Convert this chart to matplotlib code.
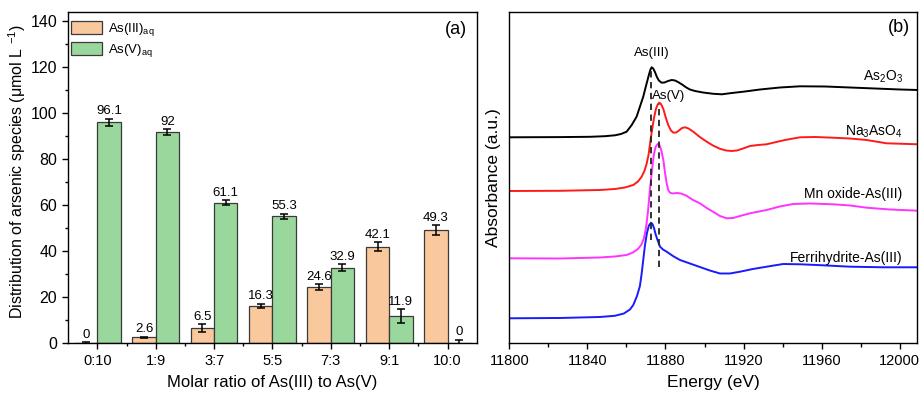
import matplotlib
matplotlib.use("Agg")
import matplotlib.pyplot as plt
import numpy as np
from matplotlib.ticker import MultipleLocator, FixedLocator
from matplotlib.patches import Patch

plt.rcParams['font.family'] = ['Liberation Sans', 'DejaVu Sans']
plt.rcParams['mathtext.fontset'] = 'custom'
plt.rcParams['mathtext.rm'] = 'Liberation Sans'
plt.rcParams['mathtext.it'] = 'Liberation Sans:italic'
plt.rcParams['mathtext.default'] = 'rm'

# ---------------- Panel (a) data ----------------
ratios = ["0:10", "1:9", "3:7", "5:5", "7:3", "9:1", "10:0"]
as3_vals = [0, 2.6, 6.5, 16.3, 24.6, 42.1, 49.3]
as3_err = [0.5, 0.3, 1.8, 1.0, 1.2, 1.9, 2.0]
as5_vals = [96.1, 92, 61.1, 55.3, 32.9, 11.9, 0]
as5_err = [1.6, 1.2, 1.1, 1.1, 1.5, 2.9, 1.6]
as3_lbls = ["0", "2.6", "6.5", "16.3", "24.6", "42.1", "49.3"]
as5_lbls = ["96.1", "92", "61.1", "55.3", "32.9", "11.9", "0"]

# ---------------- Panel (b) data ----------------
e_as2o3 = [11800, 11826.0, 11841.3, 11849.0, 11854.1, 11857.2, 11860.1, 11862.7, 11865.2, 11866.9,
           11868.6, 11870.0, 11871.2, 11872.2, 11872.9, 11873.7, 11874.6, 11875.6, 11876.6, 11878.0,
           11879.5, 11881.3, 11883.2, 11884.9, 11886.4, 11888.5, 11890.5, 11892.5, 11895.1, 11899.2,
           11904.5, 11908.9, 11914.0, 11920.7, 11928.4, 11938.6, 11948.9, 11961.7, 11974.5, 11987.3,
           12000.1, 12009.3]
a_as2o3 = [2.060, 2.062, 2.065, 2.071, 2.080, 2.093, 2.116, 2.183, 2.266, 2.366,
           2.466, 2.573, 2.663, 2.733, 2.760, 2.748, 2.713, 2.663, 2.628, 2.606,
           2.608, 2.623, 2.633, 2.628, 2.613, 2.588, 2.560, 2.538, 2.523, 2.508,
           2.495, 2.490, 2.503, 2.518, 2.538, 2.558, 2.570, 2.568, 2.558, 2.548,
           2.538, 2.533]

e_na3aso4 = [11800, 11826.0, 11846.4, 11854.1, 11859.2, 11863.5, 11865.9, 11867.8, 11869.2, 11870.3,
             11871.3, 11872.0, 11873.1, 11874.1, 11875.1, 11876.0, 11876.8, 11877.7, 11878.9, 11880.2,
             11881.4, 11882.8, 11884.0, 11885.4, 11886.9, 11888.5, 11890.0, 11891.8, 11894.2, 11897.6,
             11901.1, 11904.3, 11907.9, 11911.0, 11913.9, 11916.6, 11919.7, 11923.3, 11927.4, 11931.8,
             11936.1, 11941.2, 11948.9, 11956.6, 11965.7, 11974.5, 11983.0, 11993.2, 12009.3]
a_na3aso4 = [1.523, 1.525, 1.533, 1.543, 1.558, 1.583, 1.618, 1.666, 1.723, 1.793,
             1.883, 1.983, 2.133, 2.253, 2.343, 2.388, 2.406, 2.393, 2.343, 2.253,
             2.183, 2.128, 2.106, 2.108, 2.128, 2.153, 2.160, 2.148, 2.116, 2.063,
             2.016, 1.978, 1.945, 1.928, 1.923, 1.928, 1.948, 1.973, 1.983, 1.990,
             2.010, 2.033, 2.060, 2.063, 2.056, 2.048, 2.033, 2.000, 1.990]

e_mn = [11800, 11826.0, 11846.4, 11854.1, 11860.1, 11863.3, 11865.9, 11867.7, 11869.0, 11870.0,
        11871.0, 11872.0, 11873.1, 11874.0, 11874.9, 11876.0, 11876.9, 11877.8, 11878.9, 11879.7,
        11880.6, 11881.4, 11882.3, 11883.8, 11885.9, 11887.9, 11890.5, 11894.1, 11897.6, 11901.1,
        11904.3, 11907.9, 11911.3, 11914.6, 11918.2, 11923.3, 11931.8, 11938.6, 11945.4, 11954.0,
        11965.9, 11974.6, 11983.0, 11995.0, 12009.3]
a_mn = [0.850, 0.848, 0.858, 0.868, 0.883, 0.908, 0.943, 0.988, 1.053, 1.153,
        1.313, 1.533, 1.733, 1.883, 1.963, 1.993, 1.983, 1.933, 1.833, 1.713,
        1.600, 1.533, 1.506, 1.498, 1.503, 1.498, 1.478, 1.433, 1.400, 1.353,
        1.316, 1.273, 1.250, 1.253, 1.273, 1.300, 1.333, 1.368, 1.393, 1.398,
        1.390, 1.378, 1.356, 1.338, 1.326]

e_fh = [11800, 11826.0, 11846.4, 11854.1, 11858.7, 11861.8, 11863.5, 11865.4, 11866.9, 11867.9,
        11868.6, 11869.5, 11870.5, 11871.5, 11872.6, 11873.3, 11874.1, 11874.9, 11875.9, 11877.2,
        11878.7, 11880.6, 11883.8, 11887.4, 11892.5, 11897.6, 11902.7, 11907.9, 11913.0, 11918.2,
        11924.8, 11931.8, 11940.3, 11948.9, 11957.4, 11974.5, 11991.3, 12009.3]
a_fh = [0.250, 0.253, 0.263, 0.275, 0.298, 0.338, 0.383, 0.473, 0.573, 0.713,
        0.833, 0.983, 1.103, 1.178, 1.206, 1.193, 1.153, 1.093, 1.033, 0.966,
        0.938, 0.916, 0.873, 0.833, 0.798, 0.763, 0.728, 0.698, 0.698, 0.716,
        0.743, 0.766, 0.793, 0.790, 0.783, 0.766, 0.760, 0.760]

ref_energies = [11872.6, 11876.7]
ref_top = [2.76, 2.39]
ref_bottom = [1.03, 0.76]

# ---------------- Figure ----------------
fig = plt.figure(figsize=(9.19, 3.93), dpi=100)
ax1 = fig.add_axes([0.0743, 0.1265, 0.4444, 0.8422])
ax2 = fig.add_axes([0.5542, 0.1265, 0.4440, 0.8422])

orange = '#F9C89C'
green = '#9AD79C'
edge = '#3a3a3a'
x = np.arange(len(ratios))
w = 0.4
ax1.bar(x - w/2, as3_vals, w, color=orange, edgecolor=edge, linewidth=0.9, zorder=2)
ax1.bar(x + w/2, as5_vals, w, color=green, edgecolor=edge, linewidth=0.9, zorder=2)
ax1.errorbar(x - w/2, as3_vals, yerr=as3_err, fmt='none', ecolor='black',
             elinewidth=1.1, capsize=3, capthick=1.1, zorder=3)
ax1.errorbar(x + w/2, as5_vals, yerr=as5_err, fmt='none', ecolor='black',
             elinewidth=1.1, capsize=3, capthick=1.1, zorder=3)
for xi, v, e, t in zip(x - w/2, as3_vals, as3_err, as3_lbls):
    ax1.text(xi, v + e + 0.6, t, ha='center', va='bottom', fontsize=9.5)
for xi, v, e, t in zip(x + w/2, as5_vals, as5_err, as5_lbls):
    ax1.text(xi, v + e + 0.6, t, ha='center', va='bottom', fontsize=9.5)

ax1.set_xlim(-0.5, 6.5)
ax1.set_ylim(0, 144)
ax1.set_xticks(x)
ax1.set_xticklabels(ratios)
ax1.xaxis.set_minor_locator(FixedLocator(x[:-1] + 0.5))
ax1.yaxis.set_major_locator(MultipleLocator(20))
ax1.yaxis.set_minor_locator(MultipleLocator(10))
ax1.tick_params(axis='both', which='major', direction='out', length=4.5, width=1, labelsize=10.5)
ax1.tick_params(axis='y', which='major', labelsize=11.5)
ax1.tick_params(axis='both', which='minor', direction='out', length=2.5, width=1)
ax1.set_xlabel('Molar ratio of As(III) to As(V)', fontsize=12, labelpad=5)
ax1.set_ylabel(r'Distribution of arsenic species (μmol L $^{-1}$)', fontsize=11.5)
ax1.yaxis.set_label_coords(-0.098, 0.52)
ax1.text(0.949, 0.947, '(a)', transform=ax1.transAxes, ha='center', va='center', fontsize=13)
handles = [Patch(facecolor=orange, edgecolor=edge, linewidth=0.9),
           Patch(facecolor=green, edgecolor=edge, linewidth=0.9)]
ax1.legend(handles, [r'As(III)$_{\mathrm{aq}}$', r'As(V)$_{\mathrm{aq}}$'],
           loc='upper left', bbox_to_anchor=(0.006, 0.975), frameon=False,
           fontsize=9.5, handlelength=2.4, handleheight=1.15, labelspacing=0.35,
           handletextpad=0.4, borderpad=0, borderaxespad=0)

# Panel (b)
lw = 1.4
ax2.plot(e_as2o3, a_as2o3, color='black', lw=lw)
ax2.plot(e_na3aso4, a_na3aso4, color='#FF1A1A', lw=lw)
ax2.plot(e_mn, a_mn, color='#FF33FF', lw=lw)
ax2.plot(e_fh, a_fh, color='#1A1AFF', lw=lw)
for ex, t, b in zip(ref_energies, ref_top, ref_bottom):
    ax2.plot([ex, ex], [b, t], color='#222222', lw=1.3, ls=(0, (3.5, 2.5)))
ax2.text(11872.9, 2.90, 'As(III)', ha='center', va='center', fontsize=9.5)
ax2.text(11881.8, 2.47, 'As(V)', ha='center', va='center', fontsize=9.5)
ax2.text(12001.5, 2.66, r'As$_2$O$_3$', ha='right', va='center', fontsize=10)
ax2.text(12001.5, 2.11, r'Na$_3$AsO$_4$', ha='right', va='center', fontsize=10)
ax2.text(12001.5, 1.49, 'Mn oxide-As(III)', ha='right', va='center', fontsize=10)
ax2.text(12001.5, 0.85, 'Ferrihydrite-As(III)', ha='right', va='center', fontsize=10)
ax2.text(0.956, 0.953, '(b)', transform=ax2.transAxes, ha='center', va='center', fontsize=13)

ax2.set_xlim(11800, 12009)
ax2.set_ylim(0, 3.31)
ax2.xaxis.set_major_locator(MultipleLocator(40))
ax2.xaxis.set_minor_locator(MultipleLocator(20))
ax2.set_yticks([])
ax2.tick_params(axis='x', which='major', direction='out', length=4.5, width=1, labelsize=10.5)
ax2.tick_params(axis='x', which='minor', direction='out', length=3, width=1)
ax2.set_xlabel('Energy (eV)', fontsize=12.5, labelpad=5)
ax2.set_ylabel('Absorbance (a.u.)', fontsize=12.5, labelpad=6)

for ax in (ax1, ax2):
    for s in ax.spines.values():
        s.set_linewidth(1.0)

fig.savefig('out.png', dpi=100)
